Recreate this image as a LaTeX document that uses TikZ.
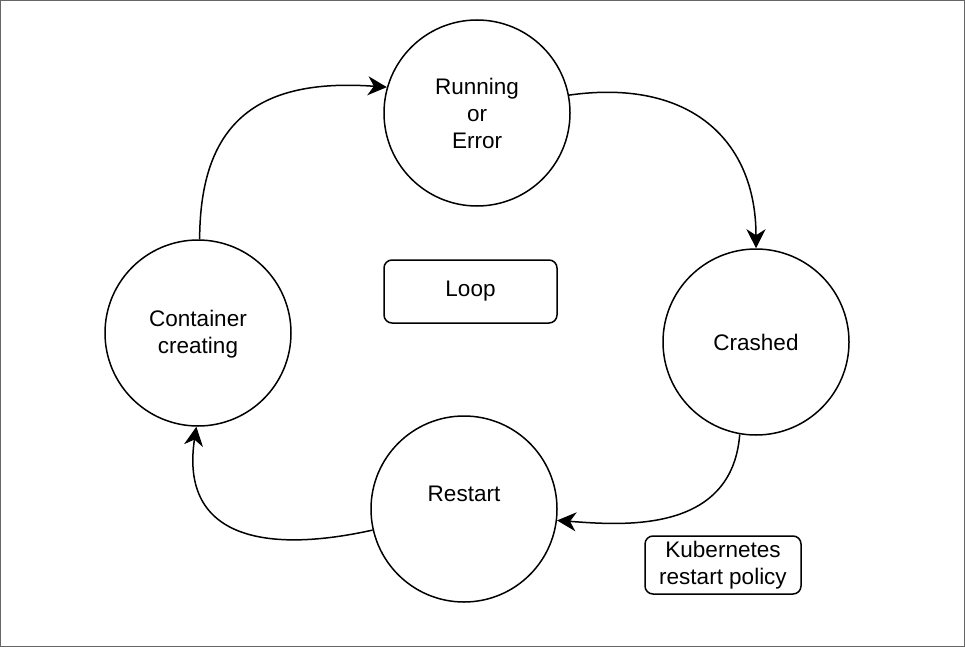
\documentclass[tikz,border=0pt]{standalone}
\usepackage{fontspec}
\setmainfont{Liberation Sans}
\usetikzlibrary{arrows.meta}
\begin{document}
\begin{tikzpicture}[x=1pt,y=-1pt,
  state/.style={circle,draw,line width=1.5pt,minimum size=186pt,inner sep=0pt,align=center,font=\fontsize{22.5}{27}\selectfont},
  tag/.style={rounded corners=8pt,draw,line width=1.5pt,align=center,font=\fontsize{22.5}{27}\selectfont,inner sep=0pt},
  flow/.style={line width=1.5pt,-{Stealth[length=19pt,width=19pt,inset=6pt]}}]
\draw[line width=1pt,draw=gray!80!black] (0.5,0.5) rectangle (964.5,646.5);
\useasboundingbox (0,0) rectangle (965,647);
\node[state] (run) at (477,113) {Running\\or\\Error};
\node[state] (crash) at (756,342) {Crashed};
\node[state] (restart) at (464,509) {};
\node[font=\fontsize{22.5}{27}\selectfont] (restartlbl) at (464,494) {Restart};
\node[state] (cc) at (198,333) {};
\node[font=\fontsize{22.5}{27}\selectfont,align=center] (cclbl) at (198,334.5) {Container\\creating};
\node[tag,minimum width=173pt,minimum height=63pt] (loop) at (470.5,291.5) {Loop};
\node[tag,minimum width=156pt,minimum height=58pt] (policy) at (723,565) {Kubernetes\\restart policy};
\draw[flow] (cc.89) .. controls (200,120) and (260,78) .. (run.164);
\draw[flow] (run.11) .. controls (690,78) and (756,140) .. (crash.90);
\draw[flow] (crash.260) .. controls (732,535) and (620,525) .. (restart.-7);
\draw[flow] (restart.193) .. controls (260,555) and (180,535) .. (cc.269);
\end{tikzpicture}
\end{document}
